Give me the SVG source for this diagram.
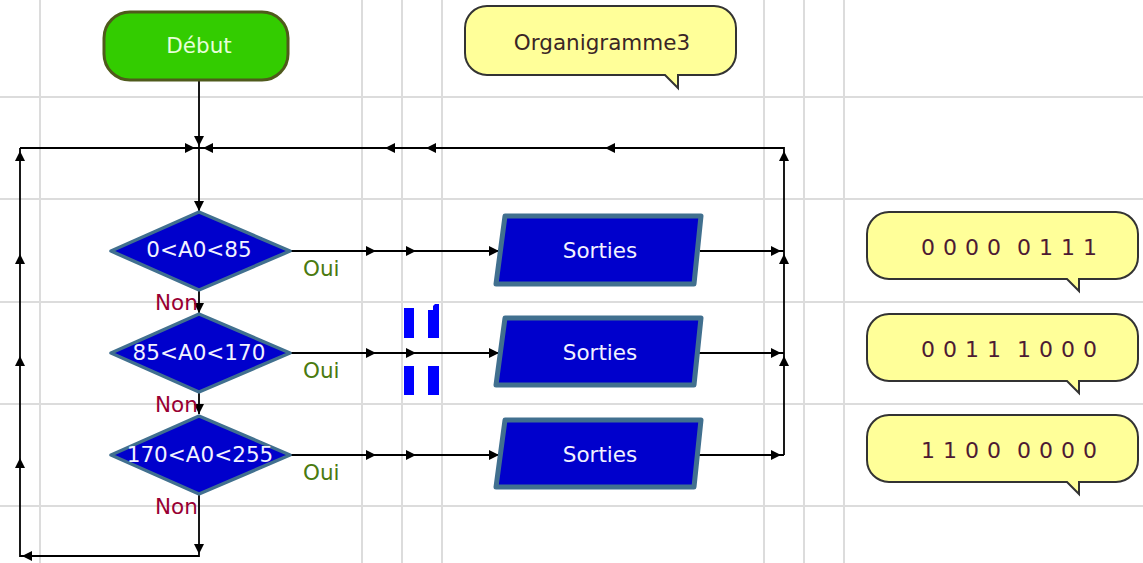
<svg xmlns="http://www.w3.org/2000/svg" width="1143" height="563" viewBox="0 0 1143 563">
<style>
text{font-family:"DejaVu Sans","Liberation Sans",sans-serif;font-size:21.5px}
.grid line{stroke:#dcdcdc;stroke-width:2}
.cn{fill:none;stroke:#000;stroke-width:1.8}
.dia{fill:#0000cc;stroke:#41708f;stroke-width:3.5;stroke-linejoin:round}
.out{fill:#0000cc;stroke:#41708f;stroke-width:5;stroke-linejoin:round}
.wt{fill:#f2f2ff;text-anchor:middle}
.non{fill:#990033}
.oui{fill:#4a7a10}
.bub{fill:#ffff99;stroke:#333;stroke-width:2}
.bt{fill:#4d1a33;font-size:22px}
.mk{fill:#0000ff}
</style>
<defs>
<path id="ah" d="M0,0 L-10,-5 L-10,5 Z" fill="#000"/>
</defs>
<rect width="1143" height="563" fill="#fff"/>
<g class="grid">
<line x1="0" y1="97" x2="1143" y2="97"/>
<line x1="0" y1="199" x2="1143" y2="199"/>
<line x1="0" y1="302" x2="1143" y2="302"/>
<line x1="0" y1="404" x2="1143" y2="404"/>
<line x1="0" y1="506" x2="1143" y2="506"/>
<line x1="40" y1="0" x2="40" y2="563"/>
<line x1="362" y1="0" x2="362" y2="563"/>
<line x1="402" y1="0" x2="402" y2="563"/>
<line x1="442" y1="0" x2="442" y2="563"/>
<line x1="764" y1="0" x2="764" y2="563"/>
<line x1="804" y1="0" x2="804" y2="563"/>
<line x1="844" y1="0" x2="844" y2="563"/>
</g>
<g id="connectors">
<path class="cn" d="M199,81 V290"/>
<path class="cn" d="M20,148 H784 V455"/>
<path class="cn" d="M199,291 V313 M199,392 V414 M199,495 V556 H20 V148"/>
<path class="cn" d="M290,251 H498 M290,353 H498 M290,455 H498"/>
<path class="cn" d="M700,251 H784 M699,353 H784 M697,455 H784"/>
<use href="#ah" transform="translate(199,146) rotate(90)"/>
<use href="#ah" transform="translate(195,148)"/>
<use href="#ah" transform="translate(203,148) rotate(180)"/>
<use href="#ah" transform="translate(385,148) rotate(180)"/>
<use href="#ah" transform="translate(426,148) rotate(180)"/>
<use href="#ah" transform="translate(605,148) rotate(180)"/>
<use href="#ah" transform="translate(784,151) rotate(-90)"/>
<use href="#ah" transform="translate(784,254) rotate(-90)"/>
<use href="#ah" transform="translate(784,356) rotate(-90)"/>
<use href="#ah" transform="translate(199,211) rotate(90)"/>
<use href="#ah" transform="translate(199,313) rotate(90)"/>
<use href="#ah" transform="translate(199,414) rotate(90)"/>
<use href="#ah" transform="translate(199,554) rotate(90)"/>
<use href="#ah" transform="translate(22,556) rotate(180)"/>
<use href="#ah" transform="translate(20,151) rotate(-90)"/>
<use href="#ah" transform="translate(20,254) rotate(-90)"/>
<use href="#ah" transform="translate(20,356) rotate(-90)"/>
<use href="#ah" transform="translate(20,458) rotate(-90)"/>
<use href="#ah" transform="translate(376,251)"/>
<use href="#ah" transform="translate(416,251)"/>
<use href="#ah" transform="translate(499,251)"/>
<use href="#ah" transform="translate(376,353)"/>
<use href="#ah" transform="translate(416,353)"/>
<use href="#ah" transform="translate(499,353)"/>
<use href="#ah" transform="translate(376,455)"/>
<use href="#ah" transform="translate(416,455)"/>
<use href="#ah" transform="translate(499,455)"/>
<use href="#ah" transform="translate(781,251)"/>
<use href="#ah" transform="translate(781,353)"/>
<use href="#ah" transform="translate(781,455)"/>
</g>
<g id="debut">
<rect x="104" y="12" width="184" height="68" rx="26" fill="#33cc00" stroke="#4f5a1c" stroke-width="3"/>
<text x="199" y="53" fill="#e6ffd9" text-anchor="middle">Début</text>
</g>
<g id="titre">
<path class="bub" d="M487,6 H714 A22,22 0 0 1 736,28 V53 A22,22 0 0 1 714,75 H678 V88 L665,75 H487 A22,22 0 0 1 465,53 V28 A22,22 0 0 1 487,6 Z"/>
<text x="602" y="50" fill="#3a2626" text-anchor="middle">Organigramme3</text>
</g>
<g id="test1">
<path class="dia" d="M199,212 L290,251 L199,290 L111,251 Z"/>
<text class="wt" x="199" y="257">0&lt;A0&lt;85</text>
</g>
<g id="test2">
<path class="dia" d="M199,314 L290,353 L199,392 L111,353 Z"/>
<text class="wt" x="199" y="360">85&lt;A0&lt;170</text>
</g>
<g id="test3">
<path class="dia" d="M199,416 L290,455 L199,494 L111,455 Z"/>
<text class="wt" x="200" y="462">170&lt;A0&lt;255</text>
</g>
<g id="labels">
<text class="non" x="155" y="310">Non</text>
<text class="non" x="155" y="412">Non</text>
<text class="non" x="155" y="514">Non</text>
<text class="oui" x="303" y="276">Oui</text>
<text class="oui" x="303" y="378">Oui</text>
<text class="oui" x="303" y="480">Oui</text>
</g>
<g id="sorties1">
<path class="out" d="M505,216 H701 L694,284 H496 Z"/>
<text class="wt" x="600" y="258">Sorties</text>
</g>
<g id="sorties2">
<path class="out" d="M505,318 H701 L694,385 H496 Z"/>
<text class="wt" x="600" y="360">Sorties</text>
</g>
<g id="sorties3">
<path class="out" d="M505,420 H701 L694,487 H496 Z"/>
<text class="wt" x="600" y="462">Sorties</text>
</g>
<g id="marques">
<rect class="mk" x="404" y="308" width="10" height="30"/>
<polygon class="mk" points="428,310 433,310 433,306 435,304 439,304 439,338 428,338"/>
<rect class="mk" x="404" y="366" width="10" height="29"/>
<rect class="mk" x="428" y="366" width="11" height="29"/>
</g>
<g id="bulle1">
<path class="bub" d="M889,212 H1116 A22,22 0 0 1 1138,234 V257 A22,22 0 0 1 1116,279 H1079 V291 L1067,279 H889 A22,22 0 0 1 867,257 V234 A22,22 0 0 1 889,212 Z"/>
<text class="bt" x="921 933 943 955 965 977 987 1003 1017 1029 1039 1051 1061 1073 1083" y="255">0 0 0 0 0 1 1 1</text>
</g>
<g id="bulle2">
<path class="bub" d="M889,314 H1116 A22,22 0 0 1 1138,336 V359 A22,22 0 0 1 1116,381 H1079 V393 L1067,381 H889 A22,22 0 0 1 867,359 V336 A22,22 0 0 1 889,314 Z"/>
<text class="bt" x="921 933 943 955 965 977 987 1003 1017 1029 1039 1051 1061 1073 1083" y="357">0 0 1 1 1 0 0 0</text>
</g>
<g id="bulle3">
<path class="bub" d="M889,415 H1116 A22,22 0 0 1 1138,437 V460 A22,22 0 0 1 1116,482 H1079 V494 L1067,482 H889 A22,22 0 0 1 867,460 V437 A22,22 0 0 1 889,415 Z"/>
<text class="bt" x="921 933 943 955 965 977 987 1003 1017 1029 1039 1051 1061 1073 1083" y="458">1 1 0 0 0 0 0 0</text>
</g>
</svg>
